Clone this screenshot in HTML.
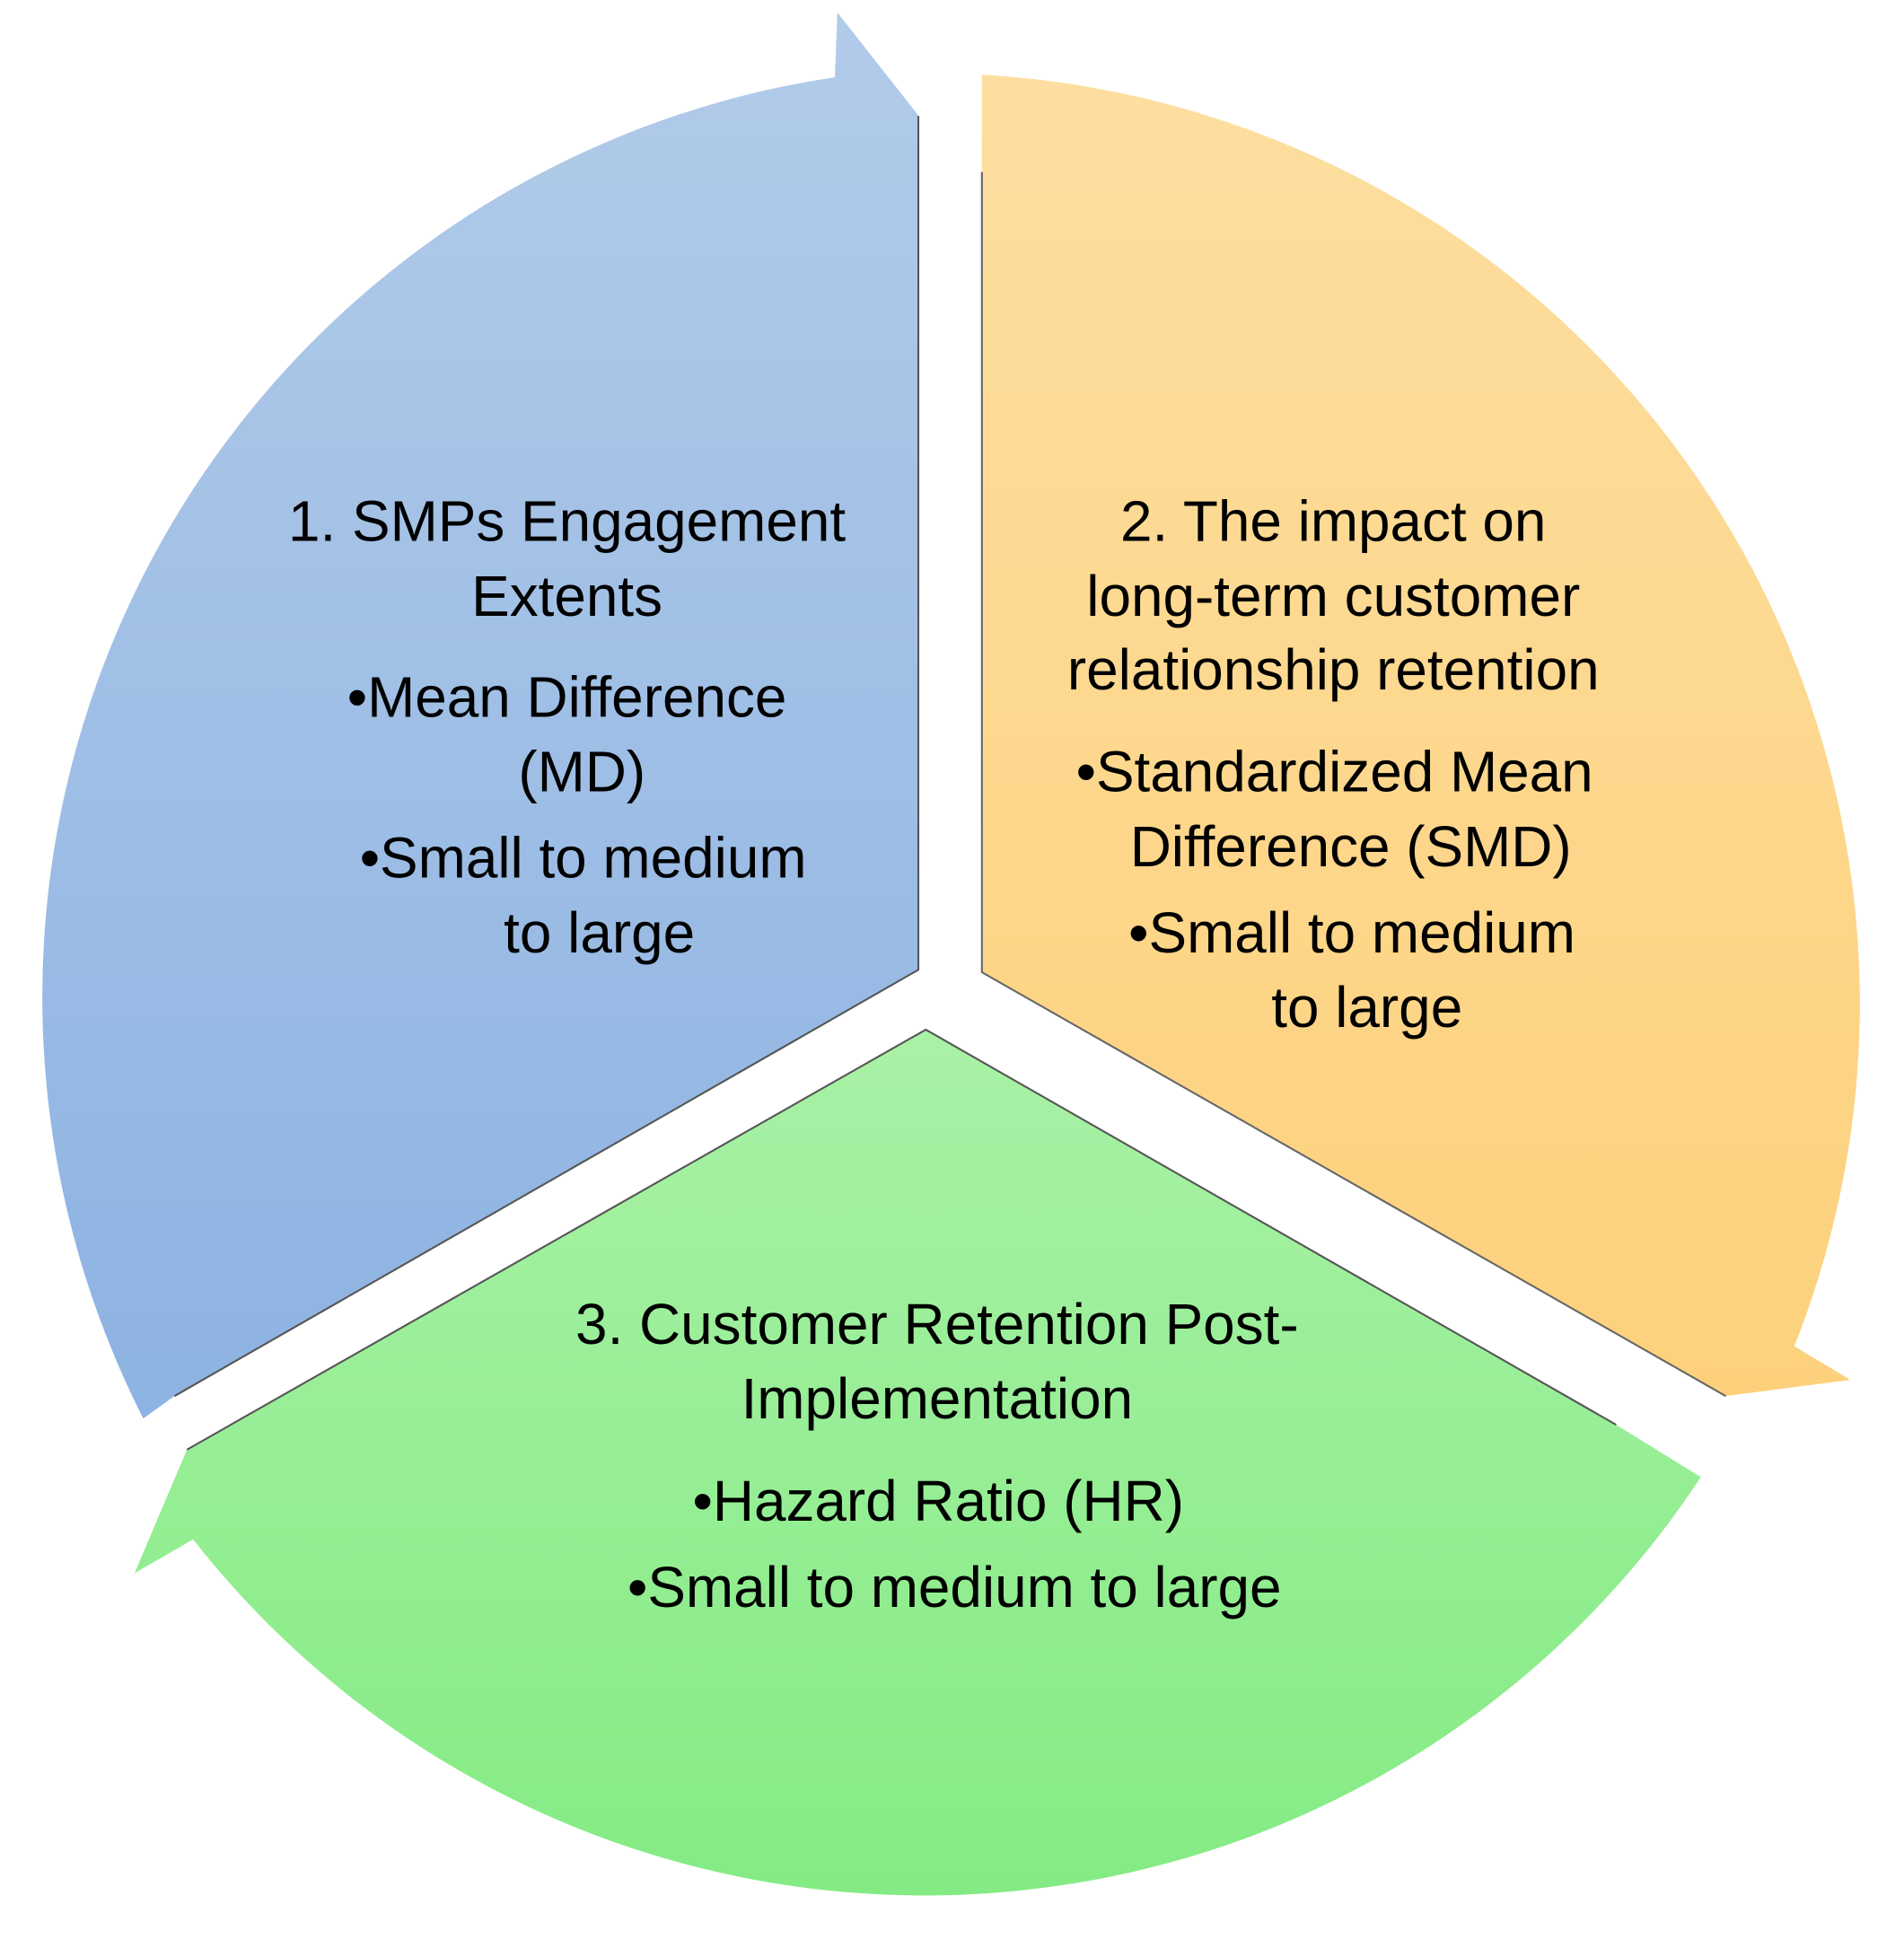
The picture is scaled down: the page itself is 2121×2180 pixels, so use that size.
<!DOCTYPE html>
<html><head><meta charset="utf-8"><style>html,body{margin:0;padding:0;background:#fff}svg{display:block}</style></head>
<body>
<svg width="2121" height="2180" viewBox="0 0 1528 1570" preserveAspectRatio="none" xmlns="http://www.w3.org/2000/svg">
<defs>
<linearGradient id="gb" x1="0" y1="0" x2="0" y2="1"><stop offset="0" stop-color="#b2cbe9"/><stop offset="1" stop-color="#8db3e2"/></linearGradient>
<linearGradient id="go" x1="0" y1="0" x2="0" y2="1"><stop offset="0" stop-color="#fddea0"/><stop offset="1" stop-color="#fdd17c"/></linearGradient>
<linearGradient id="gg" x1="0" y1="0" x2="0" y2="1"><stop offset="0" stop-color="#a9f1a6"/><stop offset="1" stop-color="#84eb84"/></linearGradient>
</defs>
<path d="M737,93 L737,778 L140,1120 L115,1138 A746,746 0 0 1 670,62 L672,10 L735,90 Z" fill="url(#gb)"/>
<path d="M737,93 L737,778 L140,1120" fill="none" stroke="#555" stroke-width="1.5"/>
<path d="M788,60 A746,746 0 0 1 1440,1080 L1485,1107 L1385,1120 L788,780 Z" fill="url(#go)"/>
<path d="M788,138 L788,780 L1385,1120" fill="none" stroke="#666" stroke-width="1.5"/>
<path d="M743,826 L1297,1143 L1365,1185 A746,746 0 0 1 155,1235 L108,1262 L150,1163 Z" fill="url(#gg)"/>
<path d="M1297,1143 L743,826 L150,1163" fill="none" stroke="#555" stroke-width="1.5"/>
<g font-family="Liberation Sans, sans-serif" font-size="46" fill="#000" text-anchor="middle">
<text x="455" y="434">1. SMPs Engagement</text>
<text x="455" y="494">Extents</text>
<text x="455" y="575">•Mean Difference</text>
<text x="467" y="635">(MD)</text>
<text x="468" y="704">•Small to medium</text>
<text x="481" y="764">to large</text>
<text x="1070" y="434">2. The impact on</text>
<text x="1070" y="494">long-term customer</text>
<text x="1070" y="553">relationship retention</text>
<text x="1071" y="635">•Standardized Mean</text>
<text x="1084" y="695">Difference (SMD)</text>
<text x="1085" y="764">•Small to medium</text>
<text x="1097" y="824">to large</text>
<text x="752" y="1078">3. Customer Retention Post-</text>
<text x="752" y="1138">Implementation</text>
<text x="753" y="1220">•Hazard Ratio (HR)</text>
<text x="766" y="1289">•Small to medium to large</text>
</g>
</svg>
</body></html>
